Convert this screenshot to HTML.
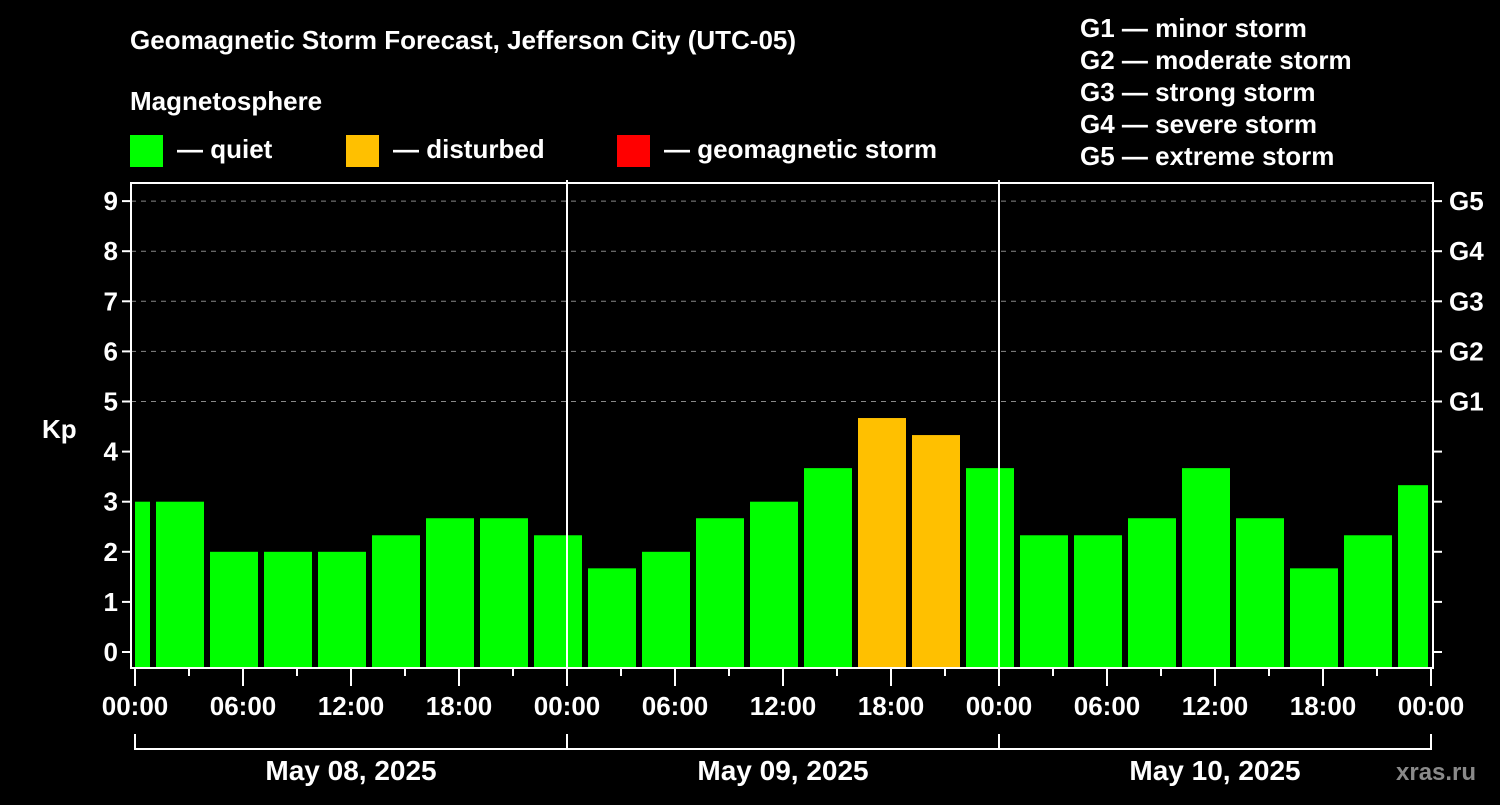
<!DOCTYPE html>
<html><head><meta charset="utf-8"><style>
body{margin:0;background:#000;}
svg text{font-family:"Liberation Sans",sans-serif;font-weight:bold;fill:#fff;}
</style></head><body>
<svg id="chart" width="1500" height="800" xmlns="http://www.w3.org/2000/svg">
<rect width="1500" height="800" fill="#000"/>
<text x="130" y="49" font-size="26">Geomagnetic Storm Forecast, Jefferson City (UTC-05)</text>
<text x="130" y="110" font-size="26">Magnetosphere</text>
<g><rect x="130" y="135" width="33" height="32" fill="#00ff00"/><text x="177" y="158" font-size="26">— quiet</text></g>
<g><rect x="346" y="135" width="33" height="32" fill="#ffc000"/><text x="393" y="158" font-size="26">— disturbed</text></g>
<g><rect x="617" y="135" width="33" height="32" fill="#ff0000"/><text x="664" y="158" font-size="26">— geomagnetic storm</text></g>
<g font-size="26">
<text x="1080" y="37">G1 — minor storm</text>
<text x="1080" y="69">G2 — moderate storm</text>
<text x="1080" y="101">G3 — strong storm</text>
<text x="1080" y="133">G4 — severe storm</text>
<text x="1080" y="165">G5 — extreme storm</text>
</g>
<text x="42" y="438" font-size="26">Kp</text>
<text x="1396" y="780" font-size="24" fill="#888" style="fill:#8a8a8a">xras.ru</text>
<g id="grid"></g><g id="bars"></g><g id="axes"></g>
</svg>
<script>
const kpValues=[3.0,3.0,2.0,2.0,2.0,2.33,2.67,2.67,2.33,1.67,2.0,2.67,3.0,3.67,4.67,4.33,3.67,2.33,2.33,2.67,3.67,2.67,1.67,2.33,3.33];
const barStartHours=[-2,1,4,7,10,13,16,19,22,25,28,31,34,37,40,43,46,49,52,55,58,61,64,67,70];
const yTicks=[0,1,2,3,4,5,6,7,8,9];
const gLabels=["G1","G2","G3","G4","G5"];
const xTickLabels=["00:00","06:00","12:00","18:00","00:00","06:00","12:00","18:00","00:00","06:00","12:00","18:00","00:00"];
const dayLabels=["May 08, 2025","May 09, 2025","May 10, 2025"];
const NS="http://www.w3.org/2000/svg";
const L=131,R=1433,T=183,B=668;
const x=h=>135+h*18;
const y=v=>652-v*50.1;
function mk(p,tag,a){const e=document.createElementNS(NS,tag);for(const k in a)e.setAttribute(k,a[k]);p.appendChild(e);return e;}
const grid=document.getElementById('grid'),bars=document.getElementById('bars'),axes=document.getElementById('axes');
yTicks.forEach(v=>{
 if(v>=5){const l=mk(grid,'line',{x1:L,x2:R,y1:y(v),y2:y(v),stroke:'#888','stroke-dasharray':'5,5','stroke-width':1});
 
 }
 mk(axes,'line',{x1:L-9,x2:L,y1:y(v),y2:y(v),stroke:'#fff','stroke-width':2});
 mk(axes,'line',{x1:R,x2:R+9,y1:y(v),y2:y(v),stroke:'#fff','stroke-width':2});
 const t=mk(axes,'text',{x:L-13,y:y(v)+9,'font-size':26,'text-anchor':'end'});t.textContent=v;
 
 
});
gLabels.forEach((g,i)=>{const t=mk(axes,'text',{x:1449,y:y(i+5)+9,'font-size':26});t.textContent=g;
 
 });
kpValues.forEach((v,i)=>{
 const s=barStartHours[i];
 const x0=Math.max(x(s)+3,135),x1=Math.min(x(s+3)-3,R-5);
 const c=v>=5?'#ff0000':(v>=4?'#ffc000':'#00ff00');
 const r=mk(bars,'rect',{x:x0,y:y(v),width:x1-x0,height:B-y(v),fill:c});
 
 
});
[1,2].forEach(d=>mk(axes,'line',{x1:x(24*d),x2:x(24*d),y1:180,y2:B,stroke:'#fff','stroke-width':2}));
const fr=mk(axes,'rect',{x:L,y:T,width:R-L,height:B-T,fill:'none',stroke:'#fff','stroke-width':2});


for(let h=0;h<=72;h+=3){mk(axes,'line',{x1:x(h),x2:x(h),y1:B,y2:h%6===0?686:676,stroke:'#fff','stroke-width':2});}
xTickLabels.forEach((s,i)=>{const t=mk(axes,'text',{x:x(i*6),y:715,'font-size':26,'text-anchor':'middle'});t.textContent=s;
 
 });
mk(axes,'path',{d:`M${x(0)},734V749H${x(72)}V734`,stroke:'#fff','stroke-width':2,fill:'none'});
[1,2].forEach(d=>mk(axes,'line',{x1:x(24*d),x2:x(24*d),y1:734,y2:749,stroke:'#fff','stroke-width':2}));
dayLabels.forEach((s,i)=>{const t=mk(axes,'text',{x:x(24*i+12),y:780,'font-size':28,'text-anchor':'middle'});t.textContent=s;
 
 });
</script>
</body></html>
